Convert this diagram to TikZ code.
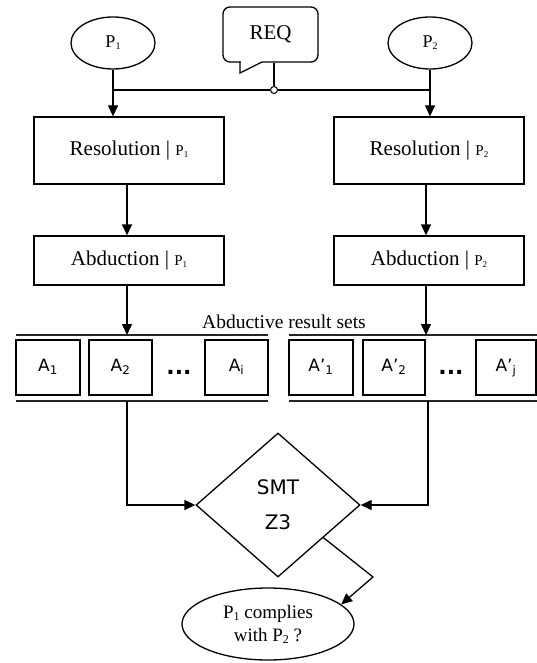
\documentclass[tikz,border=0pt]{standalone}
\usepackage{fontspec}
\setmainfont{Liberation Serif}
\setsansfont{DejaVu Sans}
\usetikzlibrary{arrows.meta,shapes.geometric,calc}
\newcommand{\fs}[2]{\fontsize{#1}{#2}\selectfont}
\newcommand{\Pn}[3]{{\fontsize{#1}{#1}\selectfont P\raisebox{-0.25ex}{\fontsize{#2}{#2}\selectfont #3}}}
\begin{document}
\begin{tikzpicture}[x=1pt,y=-1pt,line width=1.3pt,
  arr/.style={-{Triangle[length=11pt,width=10pt]}},
  procbox/.style={draw,minimum width=190pt,inner sep=0pt,font=\fs{21}{25}},
  setbox/.style={draw,minimum height=55pt,inner sep=0pt,text height=12pt,text depth=4pt,font=\sffamily\fs{17}{20}},
  setline/.style={line width=1.6pt,black!85},
  pell/.style={draw,ellipse,minimum width=84pt,minimum height=52pt,inner sep=0pt},
  dotsnode/.style={font=\sffamily\bfseries\fs{22}{22},inner sep=0pt}]
\useasboundingbox (0,0) rectangle (537,663);

% top inputs
\node[pell] (p1) at (113,43) {\Pn{18}{10}{1}};
\node[pell] (p2) at (430,43) {\Pn{18}{10}{2}};
\node[draw,rounded corners=7pt,minimum width=95pt,minimum height=55pt,inner sep=0pt,font=\fs{21}{25}] (req) at (270.5,34.5) {REQ};
\fill[white] (240.7,60.8) -- (262,60.8) -- (262,62.4) -- (240.7,72.8) -- cycle;
\draw (240,61.4) -- (240,73) -- (262,62);

% process boxes
\node[procbox,minimum height=67pt] (res1) at (129,150.5) {Resolution | \Pn{15}{9}{1}};
\node[procbox,minimum height=67pt] (res2) at (429,150.5) {Resolution | \Pn{15}{9}{2}};
\node[procbox,minimum height=49pt] (abd1) at (129,260.5) {Abduction | \Pn{15}{9}{1}};
\node[procbox,minimum height=49pt] (abd2) at (429,260.5) {Abduction | \Pn{15}{9}{2}};

% junction
\node[circle,draw,fill=white,minimum size=7pt,inner sep=0pt,line width=1pt] (junc) at (274,90) {};
\coordinate (hl) at (113,90);
\coordinate (hr) at (430,90);
\draw (hl) -- (junc.west);
\draw (junc.east) -- (hr);
\draw (junc |- req.south) -- (junc.north);
\draw[arr] (p1.south) -- (p1.south |- res1.north);
\draw[arr] (p2.south) -- (p2.south |- res2.north);

\draw[arr] ([xshift=-2pt]res1.south) -- ([xshift=-2pt]abd1.north);
\draw[arr] ([xshift=-3pt]res2.south) -- ([xshift=-3pt]abd2.north);

% result sets
\node[font=\fs{19.5}{22}] (lbl) at (284,322) {Abductive result sets};
\coordinate (lt1) at (16,335); \coordinate (lt2) at (268,335);
\coordinate (lb1) at (16,401); \coordinate (lb2) at (268,401);
\coordinate (rt1) at (289,335); \coordinate (rt2) at (537,335);
\coordinate (rb1) at (289,401); \coordinate (rb2) at (537,401);
\draw[setline] (lt1) -- (lt2);
\draw[setline] (lb1) -- (lb2);
\draw[setline] (rt1) -- (rt2);
\draw[setline] (rb1) -- (rb2);

\node[setbox,minimum width=64pt] (a1) at (48,367.5) {A\textsubscript{1}};
\node[setbox,minimum width=63pt] (a2) at (120.5,367.5) {A\textsubscript{2}};
\node[dotsnode] (d1) at (179,372) {...};
\node[setbox,minimum width=63pt] (ai) at (236.5,367.5) {A\textsubscript{i}};
\node[setbox,minimum width=64pt] (b1) at (321,367.5) {A’\textsubscript{1}};
\node[setbox,minimum width=62pt] (b2) at (394,367.5) {A’\textsubscript{2}};
\node[dotsnode] (d2) at (451,372) {...};
\node[setbox,minimum width=60pt] (bj) at (506,367.5) {A’\textsubscript{j}};

\coordinate (ltarr) at (127,335);
\coordinate (rtarr) at (426,335);
\draw[arr] (abd1.south -| ltarr) -- (ltarr);
\draw[arr] (abd2.south -| rtarr) -- (rtarr);

% SMT
\node[draw,diamond,minimum width=164pt,minimum height=144pt,inner sep=0pt,align=center,font=\sffamily\fs{20}{35}] (smt) at (278,505) {SMT\\Z3};
\coordinate (ls) at (127,401);
\coordinate (rs) at (428,401);
\draw[arr] (ls) |- (smt.west);
\draw[arr] (rs) |- (smt.east);

% result
\node[draw,ellipse,minimum width=172pt,minimum height=72pt,inner sep=0pt,align=center,font=\fs{19}{23}] (res) at (268,624) {\Pn{19}{12}{1} complies\\with \Pn{19}{12}{2} ?};
\coordinate (bend) at (373,577);
\draw[arr] ($(smt.east)!0.45!(smt.south)$) -- (bend) -- (res.15);
\end{tikzpicture}
\end{document}
